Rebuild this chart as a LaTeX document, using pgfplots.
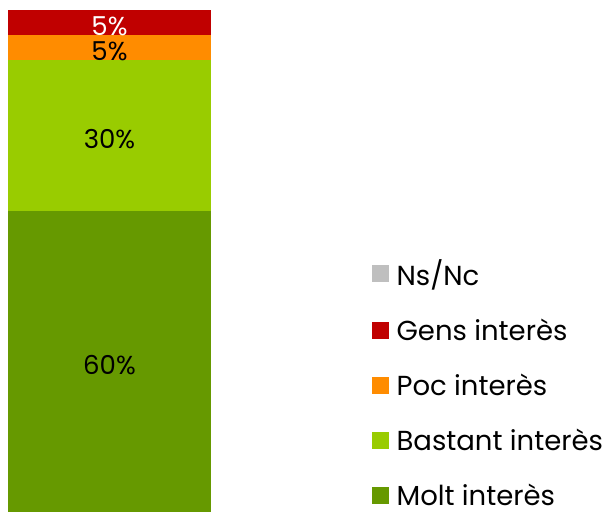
\documentclass[border=0pt]{standalone}
\usepackage{fontspec}
\setmainfont{Poppins}
\usepackage{pgfplots}
\pgfplotsset{compat=1.18}
\definecolor{cmolt}{HTML}{669900}
\definecolor{cbast}{HTML}{99CC00}
\definecolor{cpoc}{HTML}{FF8C00}
\definecolor{cgens}{HTML}{C00000}
\definecolor{cnsnc}{HTML}{BFBFBF}
\pgfplotsset{
  barbox/.style={
    at={(8pt,0pt)}, anchor=south west,
    width=203pt, height=502pt, scale only axis,
    hide axis, xmin=-0.5, xmax=0.5, ymin=0, ymax=100, clip=false}
}
\begin{document}
\begin{tikzpicture}
\useasboundingbox (0pt,0pt) rectangle (607pt,512pt);
\begin{axis}[
  barbox,
  ybar stacked, bar width=1,
  legend style={draw=none, fill=none, at={(1.793,0.257)}, anchor=west,
    inner sep=0pt, row sep=32pt, font=\fontsize{27.5}{32}\selectfont,
    nodes={inner xsep=8pt, inner ysep=0pt}},
  legend cell align=left,
  reverse legend,
]
\addplot[fill=cmolt, draw=none, forget plot] coordinates {(0,60)};
\addplot[fill=cbast, draw=none, forget plot] coordinates {(0,30)};
\addplot[fill=cpoc, draw=none, forget plot] coordinates {(0,5)};
\addplot[fill=cgens, draw=none, forget plot] coordinates {(0,5)};
\addlegendimage{legend image code/.code={\fill[cmolt] (0pt,-8pt) rectangle (16pt,8pt);}}
\addlegendentry{Molt interès}
\addlegendimage{legend image code/.code={\fill[cbast] (0pt,-8pt) rectangle (16pt,8pt);}}
\addlegendentry{Bastant interès}
\addlegendimage{legend image code/.code={\fill[cpoc] (0pt,-8pt) rectangle (16pt,8pt);}}
\addlegendentry{Poc interès}
\addlegendimage{legend image code/.code={\fill[cgens] (0pt,-8pt) rectangle (16pt,8pt);}}
\addlegendentry{Gens interès}
\addlegendimage{legend image code/.code={\fill[cnsnc] (0pt,-8pt) rectangle (16pt,8pt);}}
\addlegendentry{Ns/Nc}
\end{axis}
\begin{axis}[barbox]
\addplot[only marks, mark=none, point meta=explicit symbolic,
  nodes near coords,
  every node near coord/.append style={anchor=center, yshift=-4pt, text=black,
    font=\fontsize{26}{30}\selectfont}]
  table[meta=label] {
x y label
0 30 60\%
0 75 30\%
0 92.5 5\%
};
\addplot[only marks, mark=none, point meta=explicit symbolic,
  nodes near coords,
  every node near coord/.append style={anchor=center, yshift=-4pt, text=white,
    font=\fontsize{26}{30}\selectfont}]
  table[meta=label] {
x y label
0 97.5 5\%
};
\end{axis}
\end{tikzpicture}
\end{document}
